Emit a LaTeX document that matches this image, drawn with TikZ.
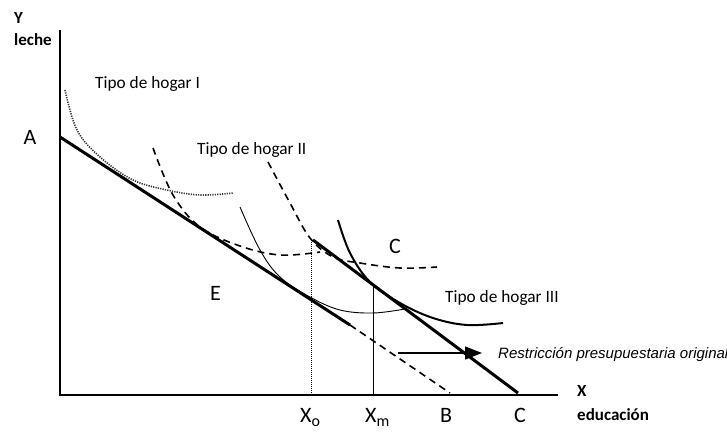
\documentclass[tikz,border=0pt]{standalone}
\usepackage{fontspec}
\setmainfont{Carlito}
\newfontfamily\arialfont{Liberation Sans}
\usetikzlibrary{arrows.meta}
\begin{document}
\begin{tikzpicture}[x=1pt,y=-1pt,
 axis/.style={line width=1.1pt},
 thickline/.style={line width=3pt},
 dashline/.style={line width=1.6pt, dash pattern=on 7pt off 5pt},
 dotline/.style={line width=1.6pt, dash pattern=on 1.2pt off 1.2pt, black!80},
 thincurve/.style={line width=0.9pt},
 vdot/.style={line width=0.9pt, dash pattern=on 1pt off 1pt},
 lbl/.style={font=\fontsize{22}{22}\selectfont, inner sep=0pt, anchor=base},
 lblw/.style={font=\fontsize{22}{22}\selectfont, inner sep=0pt, anchor=base west},
 tipo/.style={font=\fontsize{17.3}{17.3}\selectfont, inner sep=0pt, anchor=base west},
 axlbl/.style={font=\bfseries\fontsize{17}{17}\selectfont, inner sep=0pt, anchor=base west}]
\useasboundingbox (0,0) rectangle (727,432);
% coordinates
\coordinate (O) at (60,395);
\coordinate (Ytop) at (60,30);
\coordinate (Xend) at (558,395);
\coordinate (Aa) at (60,137);
\coordinate (Aend) at (350,325);
\coordinate (Bb) at (450,393);
\coordinate (Cstart) at (313,240);
\coordinate (Cc) at (518,393);
\coordinate (Xotop) at (311,240);
\coordinate (Xobot) at (311,395);
\coordinate (Xmtop) at (373,285);
\coordinate (Xmbot) at (373,395);
\coordinate (arrS) at (398,353);
\coordinate (arrE) at (482,353);
% axes
\draw[axis] (Ytop) -- (O) -- (Xend);
% budget lines
\draw[thickline] (Aa) -- (Aend);
\draw[dashline] (Aend) -- (Bb);
\draw[thickline] (Cstart) -- (Cc);
% verticals
\draw[vdot] (Xotop) -- (Xobot);
\draw[thincurve] (Xmtop) -- (Xmbot);
% indifference curves
\draw[dotline] plot[smooth, tension=0.6] coordinates {(65,90) (77,130) (100,157) (133,180) (167,190) (200,195) (233,193)};
\draw[dashline] plot[smooth, tension=0.6] coordinates {(153,148) (173,195) (200,227) (240,246) (280,255) (320,252)};
\draw[dashline] plot[smooth, tension=0.6] coordinates {(268,162) (290,203) (310,238) (333,257) (360,263) (400,268) (437,267)};
\draw[thincurve] plot[smooth, tension=0.6] coordinates {(240,207) (260,250) (280,277) (310,297) (340,310) (373,313) (405,309)};
\draw[line width=2pt] plot[smooth, tension=0.6] coordinates {(338,220) (350,253) (370,282) (400,303) (433,318) (467,325) (503,323)};
% arrow
\draw[line width=1.3pt, -{Triangle[length=17pt,width=13pt]}] (arrS) -- (arrE);
\node[inner sep=0pt, anchor=base west, font=\arialfont\itshape\fontsize{15}{15}\selectfont] (restr) at (498,358) {Restricción presupuestaria original};
% labels
\node[axlbl] (ylab) at (14,23) {Y};
\node[axlbl] (leche) at (14,45) {leche};
\node[axlbl] (xlab) at (577,396) {X};
\node[axlbl] (educ) at (577,420) {educación};
\node[lbl] (labA) at (30,144) {A};
\node[lbl] (labE) at (215.5,300) {E};
\node[lbl] (labCt) at (395,253) {C};
\node[lblw] (labXo) at (300,422) {X\raisebox{-4pt}{\fontsize{16}{16}\selectfont o}};
\node[lblw] (labXm) at (365,422) {X\raisebox{-4pt}{\fontsize{16}{16}\selectfont m}};
\node[lbl] (labB) at (446,422) {B};
\node[lbl] (labC) at (520,422) {C};
\node[tipo] (t1) at (95,88) {Tipo de hogar I};
\node[tipo] (t2) at (197,154) {Tipo de hogar II};
\node[tipo] (t3) at (445,302) {Tipo de hogar III};
\end{tikzpicture}
\end{document}
